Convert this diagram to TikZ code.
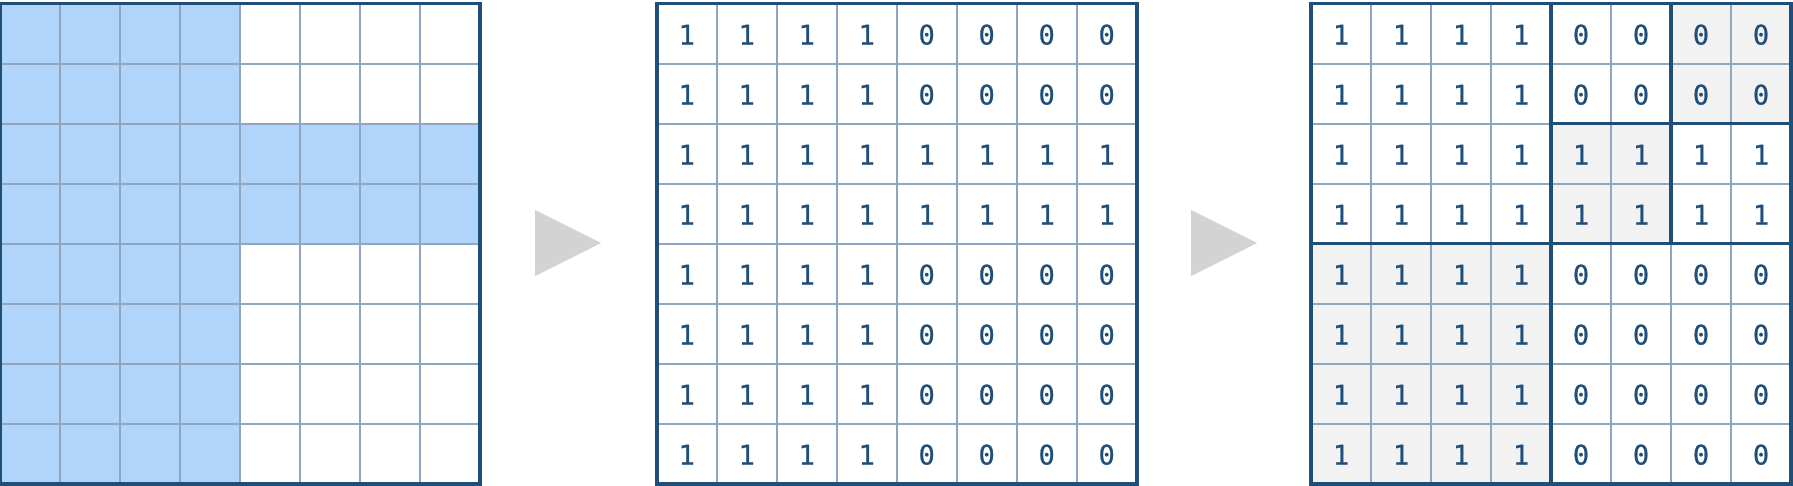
\documentclass[tikz,border=0pt]{standalone}
\usepackage{fontspec}
\newfontfamily\digitfont[FakeBold=0.8]{DejaVu Sans Mono}
\definecolor{navy}{HTML}{1F4E79}
\definecolor{gridline}{HTML}{8FA5C0}
\definecolor{cellblue}{HTML}{B0D4FA}
\definecolor{cellgray}{HTML}{F2F2F2}
\definecolor{arrowgray}{HTML}{D3D3D3}
\tikzset{
  thinline/.style={draw=gridline, line width=1.7pt},
  frameline/.style={draw=navy, line width=3.6pt},
  digit/.style={text=navy, font=\digitfont\fontsize{27}{27}\selectfont, inner sep=0pt, anchor=center},
  bluecell/.style={fill=cellblue},
  graycell/.style={fill=cellgray},
  stagearrow/.style={fill=arrowgray},
}
\begin{document}
\begin{tikzpicture}[x=1pt,y=-1pt]
\useasboundingbox (0,0) rectangle (1793,486);
% ---------- grid 1 ----------
\def\ya{3.7}
\def\xa{0}
\foreach \r in {0,...,7}{
  \foreach \c in {0,...,3}{
    \fill[bluecell] (\xa+60*\c,\ya+60*\r) rectangle ++(60,60);
  }
}
\foreach \r in {2,3}{
  \foreach \c in {4,...,7}{
    \fill[bluecell] (\xa+60*\c,\ya+60*\r) rectangle ++(60,60);
  }
}
\foreach \k in {1,...,7}{
  \draw[thinline] (\xa+60*\k,\ya) -- (\xa+60*\k,\ya+480);
  \draw[thinline] (\xa,\ya+60*\k) -- (\xa+480,\ya+60*\k);
}
\draw[frameline] (\xa,\ya) rectangle (\xa+480,\ya+480);
% ---------- arrow 1 ----------
\fill[stagearrow] (535,210) -- (601,243) -- (535,276) -- cycle;
% ---------- grid 2 ----------
\def\xb{656.7}
\foreach \k in {1,...,7}{
  \draw[thinline] (\xb+60*\k,\ya) -- (\xb+60*\k,\ya+480);
  \draw[thinline] (\xb,\ya+60*\k) -- (\xb+480,\ya+60*\k);
}
\draw[frameline] (\xb,\ya) rectangle (\xb+480,\ya+480);
\foreach \row [count=\r from 0] in {{1,1,1,1,0,0,0,0},{1,1,1,1,0,0,0,0},{1,1,1,1,1,1,1,1},{1,1,1,1,1,1,1,1},{1,1,1,1,0,0,0,0},{1,1,1,1,0,0,0,0},{1,1,1,1,0,0,0,0},{1,1,1,1,0,0,0,0}}{
  \foreach \v [count=\c from 0] in \row {
    \node[digit] (b-\r-\c) at (\xb+30+60*\c,\ya+31+60*\r) {\v};
  }
}
% ---------- arrow 2 ----------
\fill[stagearrow] (1191,210) -- (1257,243) -- (1191,276) -- cycle;
% ---------- grid 3 ----------
\def\xc{1311}
\fill[graycell] (\xc+360,\ya) rectangle (\xc+480,\ya+120);
\fill[graycell] (\xc+240,\ya+120) rectangle (\xc+360,\ya+240);
\fill[graycell] (\xc,\ya+240) rectangle (\xc+240,\ya+480);
\foreach \k in {1,...,7}{
  \draw[thinline] (\xc+60*\k,\ya) -- (\xc+60*\k,\ya+480);
  \draw[thinline] (\xc,\ya+60*\k) -- (\xc+480,\ya+60*\k);
}
\draw[frameline] (\xc+240,\ya) -- (\xc+240,\ya+480);
\draw[frameline] (\xc,\ya+240) -- (\xc+480,\ya+240);
\draw[frameline] (\xc+360,\ya) -- (\xc+360,\ya+240);
\draw[frameline] (\xc+240,\ya+120) -- (\xc+480,\ya+120);
\draw[frameline] (\xc,\ya) rectangle (\xc+480,\ya+480);
\foreach \row [count=\r from 0] in {{1,1,1,1,0,0,0,0},{1,1,1,1,0,0,0,0},{1,1,1,1,1,1,1,1},{1,1,1,1,1,1,1,1},{1,1,1,1,0,0,0,0},{1,1,1,1,0,0,0,0},{1,1,1,1,0,0,0,0},{1,1,1,1,0,0,0,0}}{
  \foreach \v [count=\c from 0] in \row {
    \node[digit] (c-\r-\c) at (\xc+30+60*\c,\ya+31+60*\r) {\v};
  }
}
\end{tikzpicture}
\end{document}
